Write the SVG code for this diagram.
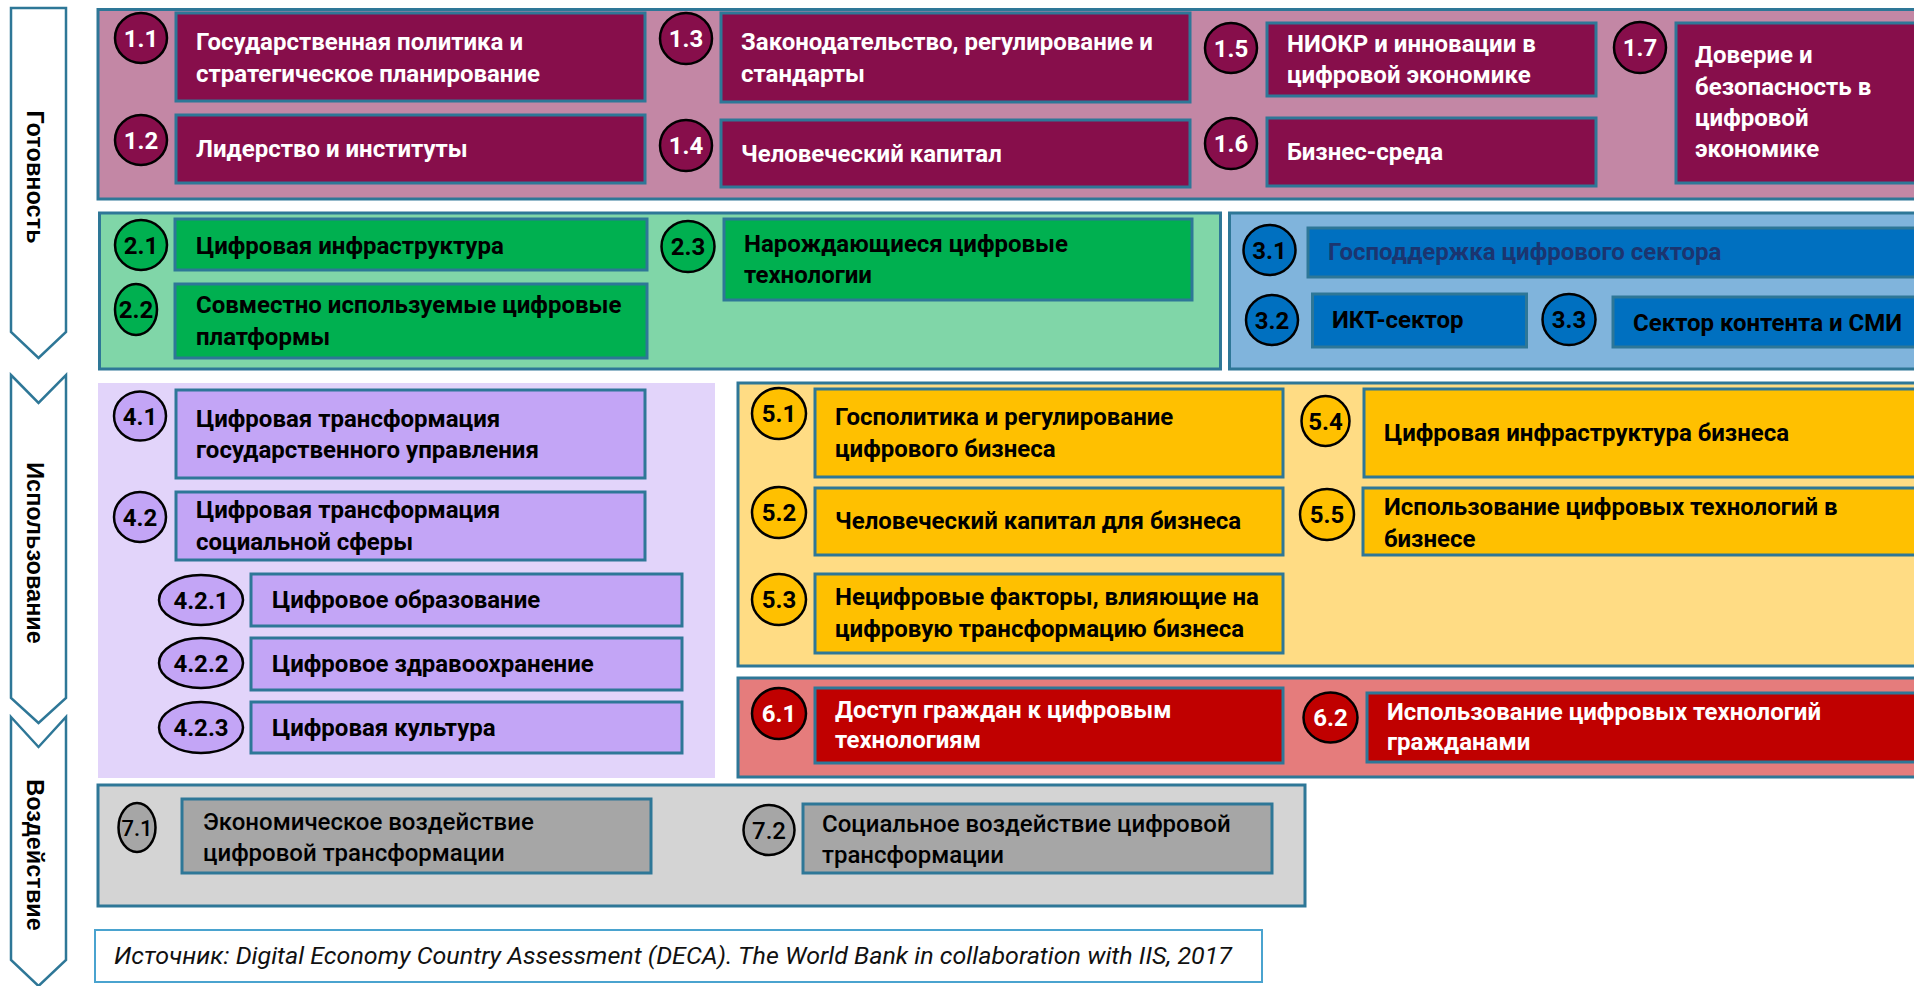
<svg xmlns="http://www.w3.org/2000/svg" width="1914" height="986" viewBox="0 0 1914 986">
<style>
.grp{stroke:#2e7797;stroke-width:3}
.box{stroke:#2e7797;stroke-width:3}
.arr{fill:#fff;stroke:#2e7797;stroke-width:2.5}
.num{stroke:#000;stroke-width:2.5}
.t{font-family:Roboto,"Liberation Sans",sans-serif;font-weight:700;font-size:24px}
.n{font-family:Roboto,"Liberation Sans",sans-serif;font-weight:700;font-size:24px;text-anchor:middle}
.w{fill:#fff}
.k{fill:#000}
.side{font-family:"Liberation Sans",Arial,sans-serif;font-weight:700;font-size:23.5px;text-anchor:middle;fill:#000}
.c1{fill:#870e4b}.c2{fill:#00b050}.c3{fill:#0070c0}.c4{fill:#c3a5f6}.c5{fill:#ffc000}.c6{fill:#c00000}.c7{fill:#a6a6a6}
</style>
<rect width="1914" height="986" fill="#fff"/>

<g id="stages">
<polygon class="arr" points="11,8 66,8 66,332 38.5,358 11,332"/>
<polygon class="arr" points="11,375 38.5,403 66,375 66,698 38.5,723 11,698"/>
<polygon class="arr" points="11,717 38.5,747 66,717 66,960 38.5,986 11,960"/>
<text class="side" transform="translate(27,177) rotate(90)">Готовность</text>
<text class="side" transform="translate(27,553) rotate(90)">Использование</text>
<text class="side" transform="translate(27,855) rotate(90)">Воздействие</text>
</g>

<g id="containers">
<rect id="g1" class="grp" x="98" y="9.5" width="1830" height="189.5" fill="#c387a5"/>
<rect id="g2" class="grp" x="99.5" y="213" width="1121" height="156" fill="#80d6a8"/>
<rect id="g3" class="grp" x="1229.5" y="213" width="700" height="156" fill="#80b4dc"/>
<rect id="g4" x="98" y="383" width="617" height="395" fill="#e2d4fa"/>
<rect id="g5" class="grp" x="738" y="383" width="1200" height="283" fill="#ffdc84"/>
<rect id="g6" class="grp" x="738" y="678" width="1200" height="99" fill="#e57c7c"/>
<rect id="g7" class="grp" x="98" y="785" width="1207" height="121" fill="#d4d4d4"/>
</g>

<g id="connectors"></g>

<!-- Group 1 -->
<g id="n11">
<ellipse class="num c1" cx="141" cy="38" rx="26" ry="25"/><text class="n w" x="141" y="46.5">1.1</text>
<rect class="box c1" x="176" y="13" width="469" height="88"/>
<text class="t w" x="196" y="50">Государственная политика и</text>
<text class="t w" x="196" y="82">стратегическое планирование</text>
</g>
<g id="n12">
<ellipse class="num c1" cx="141" cy="140" rx="26" ry="25"/><text class="n w" x="141" y="148.5">1.2</text>
<rect class="box c1" x="176" y="115" width="469" height="68"/>
<text class="t w" x="196" y="157">Лидерство и институты</text>
</g>
<g id="n13">
<ellipse class="num c1" cx="686" cy="38.5" rx="26" ry="25.5"/><text class="n w" x="686" y="47">1.3</text>
<rect class="box c1" x="721" y="13" width="469" height="89"/>
<text class="t w" x="741" y="50">Законодательство, регулирование и</text>
<text class="t w" x="741" y="82">стандарты</text>
</g>
<g id="n14">
<ellipse class="num c1" cx="686" cy="145.5" rx="26" ry="25.5"/><text class="n w" x="686" y="154">1.4</text>
<rect class="box c1" x="721" y="120" width="469" height="67"/>
<text class="t w" x="741" y="162">Человеческий капитал</text>
</g>
<g id="n15">
<ellipse class="num c1" cx="1231" cy="48" rx="26" ry="25"/><text class="n w" x="1231" y="56.5">1.5</text>
<rect class="box c1" x="1267" y="23" width="329" height="73"/>
<text class="t w" x="1287" y="52">НИОКР и инновации в</text>
<text class="t w" x="1287" y="83">цифровой экономике</text>
</g>
<g id="n16">
<ellipse class="num c1" cx="1231" cy="143.5" rx="26" ry="25.5"/><text class="n w" x="1231" y="152">1.6</text>
<rect class="box c1" x="1267" y="118" width="329" height="68"/>
<text class="t w" x="1287" y="160">Бизнес-среда</text>
</g>
<g id="n17">
<ellipse class="num c1" cx="1640" cy="47.5" rx="26" ry="25.5"/><text class="n w" x="1640" y="56">1.7</text>
<rect class="box c1" x="1676" y="23" width="260" height="160"/>
<text class="t w" x="1695" y="63">Доверие и</text>
<text class="t w" x="1695" y="95">безопасность в</text>
<text class="t w" x="1695" y="126">цифровой</text>
<text class="t w" x="1695" y="157">экономике</text>
</g>

<!-- Group 2 -->
<g id="n21">
<ellipse class="num c2" cx="141" cy="245" rx="26" ry="25"/><text class="n k" x="141" y="253.5">2.1</text>
<rect class="box c2" x="175" y="219" width="472" height="51"/>
<text class="t k" x="196" y="254">Цифровая инфраструктура</text>
</g>
<g id="n22">
<ellipse class="num c2" cx="136" cy="309.5" rx="21" ry="25.5"/><text class="n k" x="136" y="318">2.2</text>
<rect class="box c2" x="175" y="284" width="472" height="74"/>
<text class="t k" x="196" y="313">Совместно используемые цифровые</text>
<text class="t k" x="196" y="345">платформы</text>
</g>
<g id="n23">
<ellipse class="num c2" cx="688" cy="246.5" rx="26.5" ry="25.5"/><text class="n k" x="688" y="255">2.3</text>
<rect class="box c2" x="724" y="219" width="468" height="81"/>
<text class="t k" x="744" y="252">Нарождающиеся цифровые</text>
<text class="t k" x="744" y="283">технологии</text>
</g>

<!-- Group 3 -->
<g id="n31">
<ellipse class="num c3" cx="1269.5" cy="250" rx="26" ry="25"/><text class="n k" x="1269.5" y="258.5">3.1</text>
<rect class="box c3" x="1308" y="228" width="630" height="49"/>
<text class="t" x="1328" y="260" fill="#1b3570">Господдержка цифрового сектора</text>
</g>
<g id="n32">
<ellipse class="num c3" cx="1272" cy="320" rx="26" ry="25"/><text class="n k" x="1272" y="328.5">3.2</text>
<rect class="box c3" x="1312.5" y="294" width="214" height="53"/>
<text class="t k" x="1332" y="328">ИКТ-сектор</text>
</g>
<g id="n33">
<ellipse class="num c3" cx="1569" cy="319.5" rx="26.5" ry="25.5"/><text class="n k" x="1569" y="328">3.3</text>
<rect class="box c3" x="1613" y="297" width="330" height="50"/>
<text class="t k" x="1633" y="331">Сектор контента и СМИ</text>
</g>

<!-- Group 4 -->
<g id="n41">
<ellipse class="num c4" cx="140" cy="416" rx="26" ry="24.5"/><text class="n k" x="140" y="424.5">4.1</text>
<rect class="box c4" x="176" y="390" width="469" height="88"/>
<text class="t k" x="196" y="427">Цифровая трансформация</text>
<text class="t k" x="196" y="458">государственного управления</text>
</g>
<g id="n42">
<ellipse class="num c4" cx="140" cy="517" rx="26" ry="25"/><text class="n k" x="140" y="525.5">4.2</text>
<rect class="box c4" x="176" y="492" width="469" height="68"/>
<text class="t k" x="196" y="518">Цифровая трансформация</text>
<text class="t k" x="196" y="550">социальной сферы</text>
</g>
<g id="n421">
<ellipse class="num c4" cx="201" cy="600" rx="42" ry="25"/><text class="n k" x="201" y="608.5">4.2.1</text>
<rect class="box c4" x="251" y="574" width="431" height="52"/>
<text class="t k" x="272" y="608">Цифровое образование</text>
</g>
<g id="n422">
<ellipse class="num c4" cx="201" cy="663" rx="42" ry="25"/><text class="n k" x="201" y="671.5">4.2.2</text>
<rect class="box c4" x="251" y="638" width="431" height="52"/>
<text class="t k" x="272" y="672">Цифровое здравоохранение</text>
</g>
<g id="n423">
<ellipse class="num c4" cx="201" cy="727.5" rx="42" ry="25.5"/><text class="n k" x="201" y="736">4.2.3</text>
<rect class="box c4" x="251" y="702" width="431" height="51"/>
<text class="t k" x="272" y="736">Цифровая культура</text>
</g>

<!-- Group 5 -->
<g id="n51">
<ellipse class="num c5" cx="779" cy="413.5" rx="27" ry="25.5"/><text class="n k" x="779" y="422">5.1</text>
<rect class="box c5" x="815" y="389" width="468" height="88"/>
<text class="t k" x="835" y="425">Госполитика и регулирование</text>
<text class="t k" x="835" y="457">цифрового бизнеса</text>
</g>
<g id="n52">
<ellipse class="num c5" cx="779" cy="512.5" rx="27" ry="25.5"/><text class="n k" x="779" y="521">5.2</text>
<rect class="box c5" x="815" y="488" width="468" height="67"/>
<text class="t k" x="835" y="529">Человеческий капитал для бизнеса</text>
</g>
<g id="n53">
<ellipse class="num c5" cx="779" cy="599.5" rx="27" ry="25.5"/><text class="n k" x="779" y="608">5.3</text>
<rect class="box c5" x="815" y="574" width="468" height="79"/>
<text class="t k" x="835" y="605">Нецифровые факторы, влияющие на</text>
<text class="t k" x="835" y="637">цифровую трансформацию бизнеса</text>
</g>
<g id="n54">
<ellipse class="num c5" cx="1325.5" cy="421" rx="24" ry="25"/><text class="n k" x="1325.5" y="429.5">5.4</text>
<rect class="box c5" x="1364" y="389" width="580" height="88"/>
<text class="t k" x="1384" y="441">Цифровая инфраструктура бизнеса</text>
</g>
<g id="n55">
<ellipse class="num c5" cx="1327" cy="514.5" rx="27" ry="25.5"/><text class="n k" x="1327" y="523">5.5</text>
<rect class="box c5" x="1363" y="488" width="580" height="67"/>
<text class="t k" x="1384" y="515">Использование цифровых технологий в</text>
<text class="t k" x="1384" y="547">бизнесе</text>
</g>

<!-- Group 6 -->
<g id="n61">
<ellipse class="num c6" cx="779" cy="713.5" rx="27" ry="25.5"/><text class="n w" x="779" y="722">6.1</text>
<rect class="box c6" x="815" y="688" width="468" height="75"/>
<text class="t w" x="835" y="718">Доступ граждан к цифровым</text>
<text class="t w" x="835" y="748">технологиям</text>
</g>
<g id="n62">
<ellipse class="num c6" cx="1330.5" cy="717.5" rx="27" ry="25"/><text class="n w" x="1330.5" y="726">6.2</text>
<rect class="box c6" x="1367" y="693" width="580" height="69"/>
<text class="t w" x="1387" y="720">Использование цифровых технологий</text>
<text class="t w" x="1387" y="750">гражданами</text>
</g>

<!-- Group 7 -->
<g id="n71">
<ellipse class="num c7" cx="137" cy="827.5" rx="18.5" ry="24.5"/><text class="n k" x="137" y="836" style="font-weight:500;font-size:22px">7.1</text>
<rect class="box c7" x="182" y="799" width="469" height="74"/>
<text class="t k" x="203" y="830" style="font-weight:500">Экономическое воздействие</text>
<text class="t k" x="203" y="861" style="font-weight:500">цифровой трансформации</text>
</g>
<g id="n72">
<ellipse class="num c7" cx="769" cy="830" rx="25.5" ry="25"/><text class="n k" x="769" y="838.5" style="font-weight:500">7.2</text>
<rect class="box c7" x="803" y="804" width="469" height="69"/>
<text class="t k" x="822" y="832" style="font-weight:500">Социальное воздействие цифровой</text>
<text class="t k" x="822" y="863" style="font-weight:500">трансформации</text>
</g>

<g id="source">
<rect x="95" y="930" width="1167" height="52" fill="#fff" stroke="#4aa3cf" stroke-width="2"/>
<text x="114" y="964" textLength="1118" lengthAdjust="spacingAndGlyphs" style="font-family:Roboto,'Liberation Sans',sans-serif;font-style:italic;font-size:24.5px;fill:#111">Источник: Digital Economy Country Assessment (DECA). The World Bank in collaboration with IIS, 2017</text>
</g>
</svg>
